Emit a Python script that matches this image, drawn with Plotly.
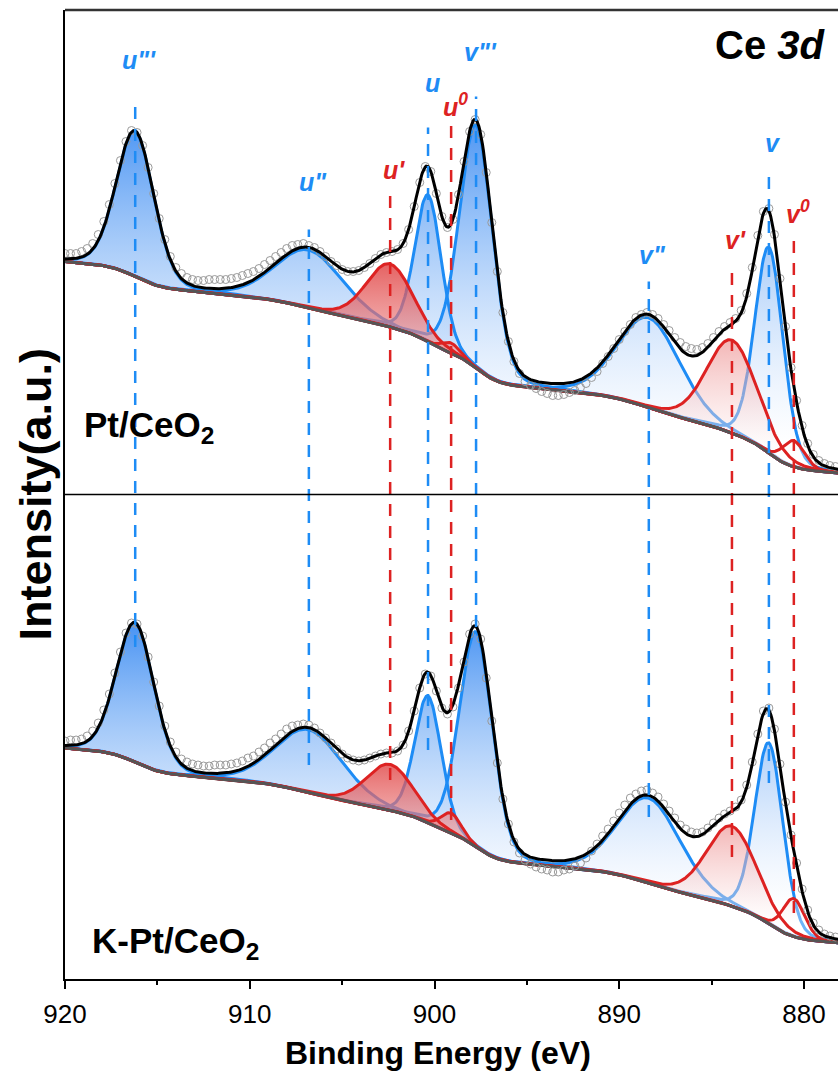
import numpy as np
import plotly.graph_objects as go

# ---------------- data (arbitrary intensity units) ----------------
sample_names = ["Pt/CeO<sub>2</sub>", "K-Pt/CeO<sub>2</sub>"]
peak_labels = ['u"\'', 'u"', "u'", "u", "u<sup>0</sup>", 'v"\'', 'v"', "v'", "v", "v<sup>0</sup>"]
peak_species = ["Ce4", "Ce4", "Ce3", "Ce4", "Ce3", "Ce4", "Ce4", "Ce3", "Ce4", "Ce3"]
peak_centers = [916.2, 906.8, 902.4, 900.35, 899.1, 897.75, 888.4, 883.9, 881.9, 880.55]

# fitted components (height above background, FWHM in eV)
pt_heights = [145, 58, 63, 147, 10, 243, 90, 93, 206, 26]
pt_fwhm = [2.4, 4.3, 3.0, 1.7, 1.2, 2.1, 4.0, 3.2, 1.8, 1.4]
kpt_heights = [139, 63, 46, 127, 20, 215, 85, 80, 181, 38]
kpt_fwhm = [2.4, 4.3, 3.0, 1.7, 1.3, 2.1, 4.0, 3.2, 1.8, 1.4]
gl_mix = 0.15
pt_bg_ends = [233, 18]      # background at 920 eV and 876 eV
kpt_bg_ends = [231, 33]
shirley_weight = 0.7

# measured spectra: 920.0 eV downwards in 0.3 eV steps
raw_start_eV = 920.0
raw_step_eV = 0.3
pt_raw = [241, 241, 241, 243, 246, 251, 260, 273, 290, 311,
          334, 353, 364, 362, 349, 327, 301, 276, 255, 238,
          227, 221, 217, 215, 214, 214, 215, 215, 215, 215,
          216, 217, 219, 221, 223, 226, 230, 234, 238, 242,
          246, 249, 250, 251, 249, 247, 243, 238, 233, 229,
          225, 223, 223, 224, 227, 231, 236, 240, 242, 243,
          245, 251, 265, 288, 312, 328, 323, 301, 278, 267,
          275, 300, 333, 363, 375, 360, 322, 272, 223, 182,
          153, 133, 121, 113, 109, 106, 103, 101, 99, 99,
          100, 102, 104, 107, 111, 117, 123, 131, 138, 146,
          155, 163, 170, 177, 180, 182, 180, 176, 170, 164,
          157, 152, 148, 146, 145, 147, 151, 157, 163, 168,
          172, 176, 184, 201, 227, 259, 283, 286, 260, 216,
          168, 127, 94, 69, 51, 40, 34, 31, 29, 28]
kpt_raw = [238, 239, 239, 240, 243, 248, 256, 269, 285, 306,
           327, 346, 356, 355, 343, 322, 297, 273, 253, 237,
           227, 220, 217, 215, 214, 213, 213, 214, 214, 214,
           215, 216, 218, 221, 223, 227, 231, 236, 240, 245,
           250, 253, 254, 255, 254, 251, 246, 241, 236, 230,
           225, 221, 219, 218, 219, 221, 223, 225, 226, 226,
           228, 234, 248, 268, 291, 305, 303, 288, 271, 265,
           272, 291, 317, 345, 355, 340, 301, 258, 216, 180,
           155, 137, 126, 119, 115, 112, 110, 109, 107, 107,
           109, 110, 113, 116, 121, 128, 135, 143, 150, 158,
           166, 174, 181, 185, 188, 189, 186, 182, 175, 168,
           161, 154, 150, 147, 146, 147, 151, 156, 161, 165,
           168, 172, 179, 194, 217, 245, 268, 271, 250, 215,
           177, 144, 116, 90, 69, 56, 49, 45, 43, 42]
x_ticks = [920, 910, 900, 890, 880]

# ---------------- styling ----------------
BLUE = "#1E8CF5"
RED = "#DD2222"
FONT = "Liberation Sans, Arial, sans-serif"
Y_MAX = 484.5
label_y = [435, 313, 325, 412, 390, 443, 240, 255, 352, 283]
dash_top = [397, 265, 300, 367, 369, 398, 213, 225, 327, 257]
dash_bottom = [332, 214, 199, 229, 159, 352, 162, 122, 196, 66]

E = np.round(np.arange(920.0, 875.95, -0.05), 3)


def pv(x, c, h, w, eta):
    d = (x - c) / w
    return h * ((1 - eta) * np.exp(-4 * np.log(2) * d ** 2) + eta / (1 + 4 * d ** 2))


def background(x, total, ends, wgt):
    cum = np.cumsum(total[::-1])[::-1]
    s = cum / cum[0]
    lin = (x - x[-1]) / (x[0] - x[-1])
    return ends[1] + (ends[0] - ends[1]) * (wgt * s + (1 - wgt) * lin)


fig = go.Figure()
panels = [
    dict(yaxis="y2", h=pt_heights, w=pt_fwhm, bg=pt_bg_ends, raw=pt_raw,
         blue=(50, 380), red=(40, 250)),
    dict(yaxis="y", h=kpt_heights, w=kpt_fwhm, bg=kpt_bg_ends, raw=kpt_raw,
         blue=(70, 360), red=(55, 235)),
]
for p in panels:
    comps = [pv(E, c, h, w, gl_mix) for c, h, w in zip(peak_centers, p["h"], p["w"])]
    total = np.sum(comps, axis=0)
    bg = background(E, total, p["bg"], shirley_weight)
    env = bg + total
    for grp in ("Ce4", "Ce3"):
        idx = [i for i in range(10) if peak_species[i] == grp]
        col = BLUE if grp == "Ce4" else RED
        rgb = "35,125,240" if grp == "Ce4" else "220,40,40"
        rng = p["blue"] if grp == "Ce4" else p["red"]
        for i in idx:
            fig.add_trace(go.Scatter(
                x=np.concatenate([E, E[::-1]]),
                y=np.concatenate([bg + comps[i], bg[::-1]]),
                fill="toself", mode="lines", line=dict(width=0),
                fillgradient=dict(type="vertical", start=rng[0], stop=rng[1],
                                  colorscale=[[0, "rgba(255,255,255,0.35)"],
                                              [1, f"rgba({rgb},0.85)"]]),
                yaxis=p["yaxis"], showlegend=False, hoverinfo="skip"))
        for i in idx:
            fig.add_trace(go.Scatter(x=E, y=bg + comps[i], mode="lines",
                                     line=dict(color=col, width=3),
                                     yaxis=p["yaxis"], showlegend=False))
    fig.add_trace(go.Scatter(x=E, y=bg, mode="lines", line=dict(color="#555555", width=3),
                             yaxis=p["yaxis"], showlegend=False))
    raw_x = [round(raw_start_eV - raw_step_eV * k, 2) for k in range(len(p["raw"]))]
    fig.add_trace(go.Scatter(x=raw_x, y=p["raw"], mode="markers",
                             marker=dict(symbol="circle-open", size=8, color="#9a9a9a",
                                         line=dict(width=1)),
                             yaxis=p["yaxis"], showlegend=False))
    fig.add_trace(go.Scatter(x=E, y=env, mode="lines", line=dict(color="black", width=3),
                             yaxis=p["yaxis"], showlegend=False))

shapes = []
for i, c in enumerate(peak_centers):
    col = BLUE if peak_species[i] == "Ce4" else RED
    shapes.append(dict(type="line", xref="x", yref="paper", x0=c, x1=c,
                       y0=0.5 * dash_bottom[i] / Y_MAX, y1=0.5 + 0.5 * dash_top[i] / Y_MAX,
                       line=dict(color=col, width=2.5, dash="12px,10px"), layer="above"))
shapes.append(dict(type="line", xref="paper", yref="paper", x0=0, x1=1, y0=0.5, y1=0.5,
                   line=dict(color="black", width=1.5)))
shapes.append(dict(type="line", xref="paper", yref="paper", x0=0, x1=1, y0=1, y1=1,
                   line=dict(color="#333333", width=2.5)))

ann = []
for i, c in enumerate(peak_centers):
    col = BLUE if peak_species[i] == "Ce4" else RED
    ann.append(dict(x=c, y=label_y[i], xref="x", yref="y2", text=f"<b><i>{peak_labels[i]}</i></b>",
                    showarrow=False, xshift=4, font=dict(size=25, color=col, family=FONT)))
ann.append(dict(x=0.986, y=450, xref="paper", yref="y2", xanchor="right",
                text="<b>Ce <i>3d</i></b>", showarrow=False,
                font=dict(size=40, color="black", family=FONT)))
ann.append(dict(x=0.022, y=68, xref="paper", yref="y2", xanchor="left",
                text=f"<b>{sample_names[0]}</b>", showarrow=False,
                font=dict(size=35, color="black", family=FONT)))
ann.append(dict(x=0.032, y=36, xref="paper", yref="y", xanchor="left",
                text=f"<b>{sample_names[1]}</b>", showarrow=False,
                font=dict(size=35, color="black", family=FONT)))
ann.append(dict(x=-0.0388, y=0.5, xref="paper", yref="paper", xanchor="center",
                yanchor="middle", textangle=-90,
                text="<b>Intensity(a.u.)</b>", showarrow=False,
                font=dict(size=45, color="black", family=FONT)))
ann.append(dict(x=0.4825, y=-0.0764, xref="paper", yref="paper", yanchor="middle",
                text="<b>Binding Energy (eV)</b>", showarrow=False,
                font=dict(size=32, color="black", family=FONT)))

fig.update_layout(
    width=838, height=1084, margin=dict(l=65, r=0, t=10, b=105),
    plot_bgcolor="white", paper_bgcolor="white",
    xaxis=dict(range=[920, 878.16], tickvals=x_ticks, ticks="outside", ticklen=8, tickwidth=1.5,
               tickcolor="black", showline=True, linecolor="black", linewidth=1.5,
               showgrid=False, zeroline=False, ticklabelstandoff=3,
               minor=dict(dtick=5, ticks="outside", ticklen=4, tickwidth=1.5, tickcolor="black"),
               tickfont=dict(size=26, color="black", family=FONT)),
    yaxis=dict(domain=[0, 0.5], range=[0, Y_MAX], showticklabels=False, showgrid=False,
               zeroline=False, showline=True, linecolor="black", linewidth=1.5),
    yaxis2=dict(domain=[0.5, 1], range=[0, Y_MAX], anchor="x", showticklabels=False,
                showgrid=False, zeroline=False, showline=True, linecolor="black", linewidth=1.5),
    shapes=shapes, annotations=ann,
)
fig.write_html("out.html")
